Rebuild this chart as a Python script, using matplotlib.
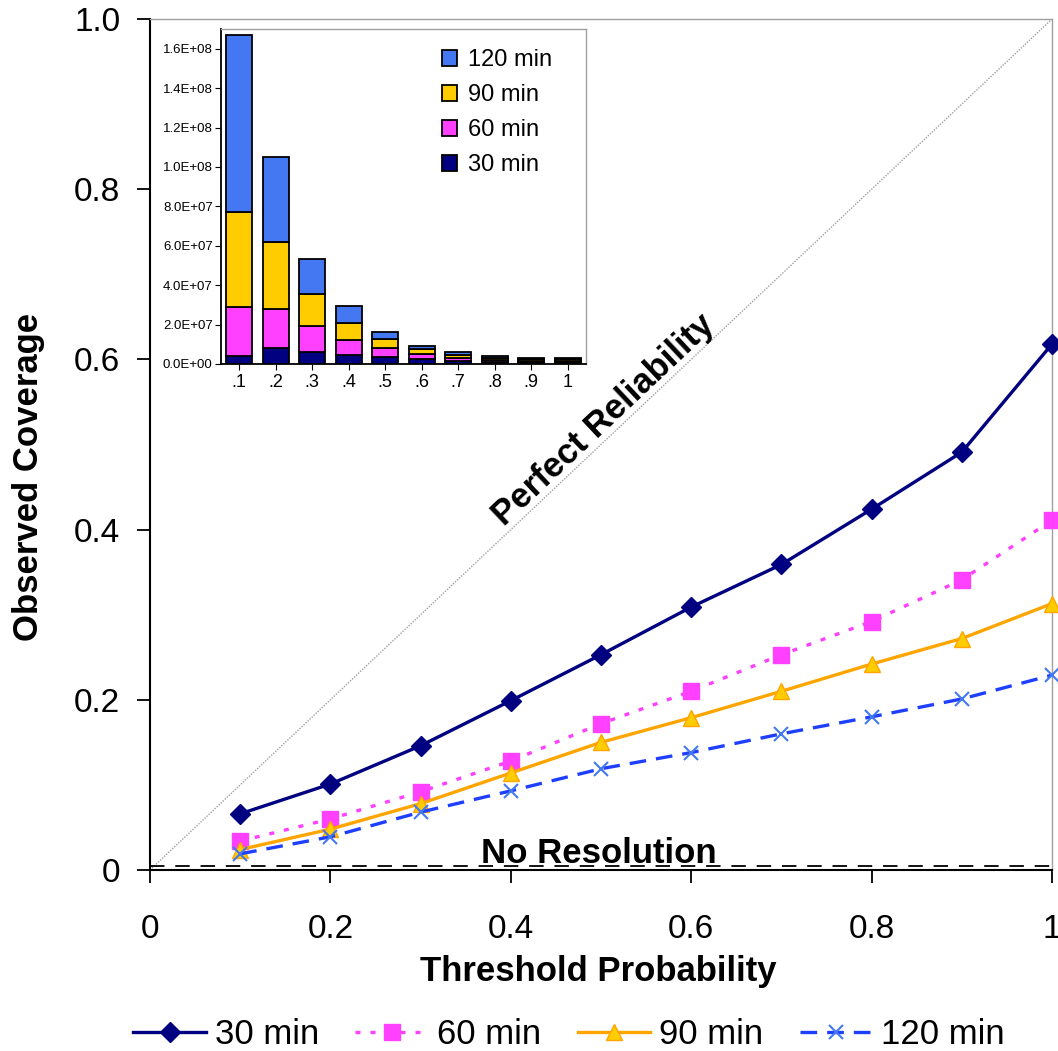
import matplotlib
matplotlib.use("Agg")
import matplotlib.pyplot as plt
import numpy as np
from matplotlib.ticker import FuncFormatter

plt.rcParams['font.family'] = ['Liberation Sans', 'DejaVu Sans']

# ---- main chart data ----
thresholds = [0.1, 0.2, 0.3, 0.4, 0.5, 0.6, 0.7, 0.8, 0.9, 1.0]
cov_30 = [0.066, 0.101, 0.146, 0.199, 0.253, 0.309, 0.359, 0.424, 0.491, 0.618]
cov_60 = [0.034, 0.060, 0.092, 0.128, 0.172, 0.210, 0.253, 0.292, 0.341, 0.411]
cov_90 = [0.024, 0.048, 0.078, 0.114, 0.150, 0.179, 0.210, 0.242, 0.272, 0.313]
cov_120 = [0.019, 0.039, 0.068, 0.093, 0.119, 0.138, 0.160, 0.180, 0.201, 0.229]
no_resolution = 0.005

x_ticks = [0, 0.2, 0.4, 0.6, 0.8, 1.0]
x_ticklabels = ["0", "0.2", "0.4", "0.6", "0.8", "1"]
y_ticks = [0, 0.2, 0.4, 0.6, 0.8, 1.0]
y_ticklabels = ["0", "0.2", "0.4", "0.6", "0.8", "1.0"]

# ---- inset data (counts, stacked) ----
inset_cats = [".1", ".2", ".3", ".4", ".5", ".6", ".7", ".8", ".9", "1"]
cnt_30 = [0.40e7, 0.80e7, 0.63e7, 0.46e7, 0.37e7, 0.24e7, 0.16e7, 0.11e7, 0.08e7, 0.08e7]
cnt_60 = [2.48e7, 1.98e7, 1.30e7, 0.76e7, 0.43e7, 0.27e7, 0.15e7, 0.11e7, 0.08e7, 0.08e7]
cnt_90 = [4.82e7, 3.39e7, 1.63e7, 0.85e7, 0.45e7, 0.24e7, 0.15e7, 0.10e7, 0.08e7, 0.08e7]
cnt_120 = [8.98e7, 4.32e7, 1.76e7, 0.85e7, 0.36e7, 0.17e7, 0.13e7, 0.10e7, 0.08e7, 0.08e7]

navy = '#000080'
magenta = '#FF40FF'
orange = '#FFA500'
gold = '#FFCC00'
blue = '#1F3FFF'
lightblue = '#4378F2'

W, H = 1058, 1051
fig = plt.figure(figsize=(W / 100, H / 100), dpi=100)
ax = fig.add_axes([150 / W, 1 - 870 / H, 902 / W, 851 / H])

ax.plot([0, 1], [0, 1], color='#A0A0A0', lw=1.0, ls=(0, (1, 1)), zorder=1)
ax.plot([0, 1], [no_resolution, no_resolution], color='black', lw=1.3, ls=(0, (8, 6)), zorder=1)

ax.plot(thresholds, cov_30, color=navy, lw=2.4, marker='D', ms=10, mfc=navy, mec=navy,
        label='30 min', zorder=5, clip_on=False)
ax.plot(thresholds, cov_60, color=magenta, lw=2.4, ls=(0, (1.5, 3)), marker='s', ms=12,
        mfc=magenta, mec=magenta, label='60 min', zorder=4, clip_on=False)
ax.plot(thresholds, cov_90, color=orange, lw=2.4, marker='^', ms=12, mfc=gold, mec=orange,
        label='90 min', zorder=4, clip_on=False)
ax.plot(thresholds, cov_120, color=blue, lw=2.4, ls=(0, (5, 3)), marker='x', ms=10, mew=1.5,
        mec=lightblue, label='120 min', zorder=4, clip_on=False)

ax.set_xlim(0, 1)
ax.set_ylim(0, 1)
ax.set_xticks(x_ticks)
ax.set_xticklabels(x_ticklabels)
ax.set_yticks(y_ticks)
ax.set_yticklabels(y_ticklabels)
ax.tick_params(axis='both', labelsize=24, direction='out', length=9.5, width=1.3)
ax.tick_params(axis='x', pad=22)
ax.tick_params(axis='y', pad=12)
for s in ['left', 'bottom']:
    ax.spines[s].set_color('black')
    ax.spines[s].set_linewidth(1.5)
for s in ['top', 'right']:
    ax.spines[s].set_color('#A0A0A0')
    ax.spines[s].set_linewidth(1.0)

fig.text(598 / W, 1 - 972 / H, 'Threshold Probability', fontsize=25, fontweight='bold',
         ha='center', va='center')
fig.text(29 / W, 1 - 477 / H, 'Observed Coverage', fontsize=25, fontweight='bold',
         ha='center', va='center', rotation=90)

ax.text(0.503, 0.529, 'Perfect Reliability', rotation=43.3, fontsize=25, fontweight='bold',
        ha='center', va='center', rotation_mode='anchor')
ax.text(0.498, 0.008, 'No Resolution', fontsize=25, fontweight='bold', ha='center', va='baseline')

fig.legend(loc='center', bbox_to_anchor=(569 / W, 1 - 1035 / H), ncol=4, frameon=False,
           fontsize=25, handlelength=2.1, handletextpad=0.25, columnspacing=1.05,
           borderpad=0, borderaxespad=0)

# ---- inset ----
iax = fig.add_axes([221 / W, 1 - 364 / H, 365 / W, 335 / H])
iax.set_zorder(10)
iax.set_facecolor('white')
xi = np.arange(len(inset_cats))
w = 0.72
b1 = np.array(cnt_30)
b2 = b1 + np.array(cnt_60)
b3 = b2 + np.array(cnt_90)
iax.bar(xi, cnt_30, w, color=navy, edgecolor='black', lw=1.3, label='30 min')
iax.bar(xi, cnt_60, w, bottom=b1, color=magenta, edgecolor='black', lw=1.3, label='60 min')
iax.bar(xi, cnt_90, w, bottom=b2, color=gold, edgecolor='black', lw=1.3, label='90 min')
iax.bar(xi, cnt_120, w, bottom=b3, color=lightblue, edgecolor='black', lw=1.3, label='120 min')
iax.set_xlim(-0.5, len(inset_cats) - 0.5)
iax.set_ylim(0, 1.7e8)
iax.set_xticks(xi)
iax.set_xticklabels(inset_cats)
iax.set_yticks(np.arange(0, 1.61e8, 2e7))
iax.yaxis.set_major_formatter(FuncFormatter(lambda v, p: ('%.1E' % v)))
iax.tick_params(axis='y', labelsize=9.5, length=4, pad=2)
iax.tick_params(axis='x', labelsize=13, length=4, pad=3)
for s in ['left', 'bottom']:
    iax.spines[s].set_color('black')
    iax.spines[s].set_linewidth(1.3)
for s in ['top', 'right']:
    iax.spines[s].set_color('#A0A0A0')
    iax.spines[s].set_linewidth(1.0)
h, l = iax.get_legend_handles_labels()
iax.legend(h[::-1], l[::-1], loc='upper left', frameon=False, fontsize=17,
           handlelength=0.65, handleheight=0.65, handletextpad=0.45, labelspacing=0.55,
           borderpad=0, borderaxespad=0, bbox_to_anchor=(0.605, 0.94))

fig.savefig('out.png', dpi=100)
